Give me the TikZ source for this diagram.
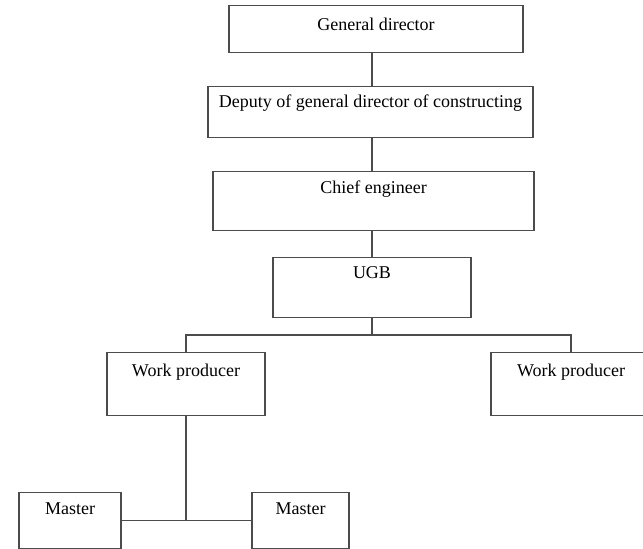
\documentclass[tikz,border=0pt]{standalone}
\usepackage{fontspec}
\setmainfont{Liberation Serif}

\tikzset{
    box/.style n args={3}{draw=black!70, line width=1.1pt, rectangle, anchor=north,
        inner xsep=0pt, inner ysep=0pt, minimum width=#1pt,
        text height=#2pt, text depth=#3pt, font=\fontsize{18}{22}\selectfont},
    link/.style={draw=black!70, line width=1.1pt}
}

\begin{document}
\begin{tikzpicture}[x=1pt, y=-1pt]

    \useasboundingbox (0,0) rectangle (643,549);

    %% Structure

    % Upper boxes
    \node[box={294}{25}{22}] (gd) at (376,5) {General director};
    \node[box={325}{21}{30}] (dep) at (370.5,86) {Deputy of general director of constructing};
    \node[box={321}{22}{37}] (chief) at (373.5,171) {Chief engineer};
    \node[box={198}{21}{39}] (ugb) at (372,257) {UGB};

    % Work producers
    \node[box={158}{24}{39}] (wpl) at (186,352) {Work producer};
    \node[box={160}{24}{39}] (wpr) at (571,352) {Work producer};

    % Masters
    \node[box={102}{22}{34}] (ml) at (70,492) {Master};
    \node[box={97}{22}{34}] (mr) at (300.5,492) {Master};

    % Lines
    \coordinate (bus) at (372,335);
    \draw[link] (gd.south -| ugb) -- (dep.north -| ugb);
    \draw[link] (dep.south -| ugb) -- (chief.north -| ugb);
    \draw[link] (chief.south -| ugb) -- (ugb.north);
    \draw[link] (ugb.south) -- (bus);
    \draw[link] (wpl.north) |- (bus) -| (wpr.north);
    \draw[link] (wpl.south) -- (wpl.south |- ml.east);
    \draw[link] (ml.east) -- (mr.west);

\end{tikzpicture}
\end{document}
